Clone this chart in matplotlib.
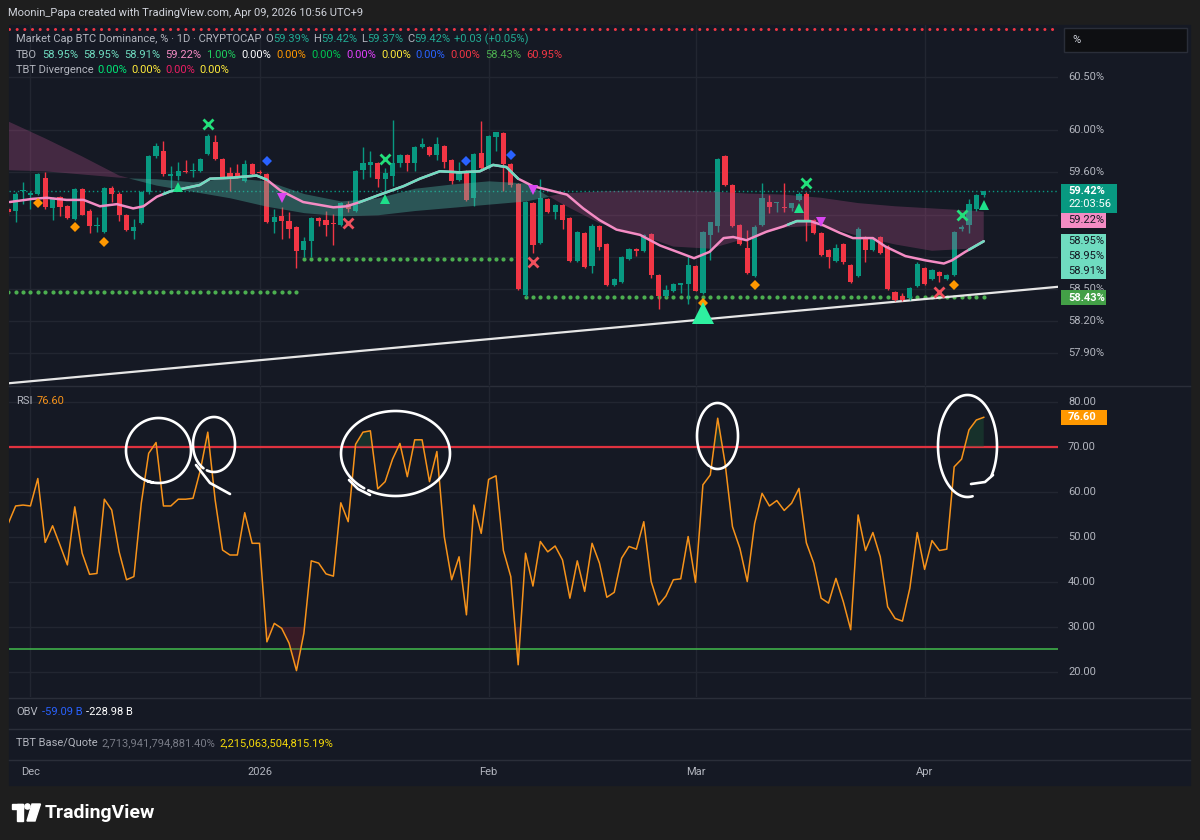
#Recreation of a TradingView chart: BTC dominance with TBO cloud and RSI

import matplotlib.pyplot as plt
from matplotlib.patches import Rectangle, Polygon, Circle
import numpy as np

plt.rcParams['font.family'] = ['Roboto', 'DejaVu Sans']

W, H = 1200, 840

# ---------------- data ----------------
opens = [
    59.25, 59.24, 59.42, 59.39, 59.40, 59.55, 59.26, 59.37, 59.28, 59.16,
    59.44, 59.24, 59.09, 59.04, 59.45, 59.40, 59.20, 59.05, 59.12, 59.41,
    59.75, 59.80, 59.57, 59.57, 59.61, 59.61, 59.61, 59.77, 59.89, 59.73,
    59.59, 59.59, 59.52, 59.68, 59.60, 59.58, 59.13, 59.19, 59.14, 59.08,
    58.87, 58.95, 59.17, 59.15, 59.12, 59.10, 59.30, 59.24, 59.62, 59.67,
    59.69, 59.54, 59.57, 59.69, 59.76, 59.69, 59.84, 59.84, 59.76, 59.85,
    59.72, 59.53, 59.61, 59.36, 59.78, 59.64, 59.93, 59.97, 59.68, 59.49,
    58.44, 59.31, 58.93, 59.35, 59.23, 59.29, 59.17, 58.76, 59.03, 58.72,
    59.09, 58.92, 58.54, 58.57, 58.78, 58.88, 58.86, 59.02, 58.63, 58.43,
    58.48, 58.54, 58.55, 58.72, 58.46, 59.01, 59.09, 59.75, 59.48, 59.10,
    58.89, 58.62, 59.10, 59.32, 59.31, 59.27, 59.26, 59.34, 59.40, 59.15,
    59.03, 58.87, 58.76, 58.92, 58.73, 58.62, 58.99, 58.87, 58.99, 58.90,
    58.47, 58.43, 58.41, 58.53, 58.70, 58.59, 58.66, 58.59, 58.63, 59.07,
    59.10, 59.25, 59.39]
highs = [
    59.27, 59.41, 59.51, 59.42, 59.59, 59.60, 59.37, 59.38, 59.29, 59.45,
    59.45, 59.25, 59.18, 59.46, 59.47, 59.41, 59.21, 59.16, 59.42, 59.76,
    59.88, 59.90, 59.66, 59.70, 59.72, 59.69, 59.74, 59.96, 59.95, 59.74,
    59.65, 59.68, 59.72, 59.69, 59.62, 59.59, 59.25, 59.27, 59.23, 59.09,
    58.99, 59.18, 59.18, 59.24, 59.21, 59.32, 59.33, 59.62, 59.84, 59.80,
    59.70, 59.64, 60.09, 59.77, 59.77, 59.85, 59.92, 59.85, 59.93, 59.86,
    59.73, 59.70, 59.62, 59.78, 60.08, 59.95, 59.98, 59.98, 59.69, 59.50,
    59.33, 59.32, 59.54, 59.36, 59.30, 59.30, 59.18, 59.05, 59.04, 59.11,
    59.10, 58.93, 58.60, 58.81, 58.89, 58.89, 59.02, 59.03, 58.64, 58.54,
    58.56, 58.56, 58.81, 58.73, 59.05, 59.13, 59.74, 59.76, 59.49, 59.11,
    59.06, 59.10, 59.50, 59.39, 59.32, 59.50, 59.31, 59.41, 59.41, 59.16,
    59.04, 58.88, 58.92, 58.93, 58.74, 59.08, 59.00, 58.98, 59.00, 58.91,
    58.48, 58.46, 58.52, 58.75, 58.71, 58.69, 58.67, 58.64, 59.05, 59.10,
    59.35, 59.40, 59.42]
lows = [
    59.21, 59.13, 59.30, 59.25, 59.39, 59.25, 59.15, 59.19, 59.16, 59.15,
    59.20, 59.03, 59.04, 59.03, 59.32, 59.14, 59.05, 58.97, 59.11, 59.40,
    59.74, 59.57, 59.43, 59.53, 59.59, 59.56, 59.60, 59.76, 59.72, 59.55,
    59.42, 59.55, 59.51, 59.57, 59.58, 59.12, 59.03, 58.97, 58.98, 58.70,
    58.80, 58.80, 59.09, 59.00, 58.91, 59.09, 59.23, 59.23, 59.54, 59.56,
    59.46, 59.42, 59.47, 59.65, 59.61, 59.61, 59.83, 59.75, 59.72, 59.64,
    59.49, 59.52, 59.33, 59.28, 59.63, 59.63, 59.80, 59.42, 59.46, 58.49,
    58.42, 58.84, 58.92, 59.22, 59.16, 59.07, 58.75, 58.75, 58.70, 58.65,
    58.87, 58.53, 58.53, 58.56, 58.77, 58.81, 58.85, 58.60, 58.31, 58.42,
    58.47, 58.46, 58.36, 58.48, 58.45, 58.77, 59.04, 59.47, 59.08, 58.91,
    58.64, 58.61, 59.09, 59.22, 59.23, 59.23, 59.24, 59.33, 58.95, 59.02,
    58.81, 58.70, 58.75, 58.74, 58.56, 58.61, 58.75, 58.86, 58.83, 58.49,
    58.39, 58.39, 58.40, 58.52, 58.54, 58.58, 58.57, 58.58, 58.62, 59.05,
    59.03, 59.24, 59.37]
closes = [
    59.23, 59.40, 59.43, 59.40, 59.58, 59.27, 59.36, 59.27, 59.17, 59.44,
    59.20, 59.09, 59.10, 59.45, 59.40, 59.20, 59.06, 59.08, 59.41, 59.75,
    59.85, 59.58, 59.58, 59.61, 59.60, 59.62, 59.73, 59.94, 59.73, 59.56,
    59.56, 59.57, 59.68, 59.58, 59.59, 59.13, 59.18, 59.14, 59.07, 58.86,
    58.95, 59.17, 59.14, 59.10, 59.11, 59.31, 59.25, 59.61, 59.69, 59.70,
    59.54, 59.59, 59.69, 59.76, 59.69, 59.84, 59.87, 59.76, 59.87, 59.70,
    59.52, 59.61, 59.34, 59.77, 59.64, 59.94, 59.98, 59.68, 59.48, 58.50,
    59.32, 58.91, 59.36, 59.23, 59.29, 59.15, 58.76, 59.04, 58.71, 59.09,
    58.90, 58.54, 58.59, 58.80, 58.88, 58.86, 59.01, 58.63, 58.43, 58.49,
    58.55, 58.55, 58.73, 58.48, 59.04, 59.13, 59.73, 59.48, 59.09, 58.92,
    58.65, 59.08, 59.36, 59.27, 59.32, 59.26, 59.31, 59.40, 59.15, 59.03,
    58.82, 58.80, 58.89, 58.75, 58.57, 59.07, 58.87, 58.97, 58.84, 58.50,
    58.40, 58.40, 58.51, 58.74, 58.55, 58.68, 58.62, 58.63, 59.04, 59.08,
    59.30, 59.39, 59.42]

rsi = [
    53.0, 56.9, 57.1, 56.9, 63.0, 48.8, 52.5, 48.2, 43.8, 56.7,
    46.4, 41.7, 41.9, 58.4, 56.0, 46.7, 40.5, 41.2, 57.5, 68.6,
    71.0, 56.9, 56.9, 58.4, 58.4, 58.6, 64.9, 73.3, 58.2, 47.1,
    46.0, 46.0, 55.4, 48.6, 48.6, 26.7, 30.8, 29.7, 26.4, 20.3,
    28.6, 44.7, 44.2, 41.8, 41.3, 57.6, 53.4, 70.6, 73.3, 73.6,
    60.7, 62.3, 67.3, 70.8, 63.4, 71.6, 71.6, 62.3, 69.0, 50.1,
    40.5, 45.6, 32.7, 57.1, 50.8, 62.8, 63.6, 47.0, 41.2, 21.6,
    46.4, 39.1, 49.0, 46.7, 48.0, 44.9, 36.4, 44.7, 37.9, 48.6,
    44.2, 36.6, 37.7, 45.3, 47.9, 47.3, 53.4, 40.1, 34.9, 36.9,
    40.5, 40.7, 50.1, 39.9, 61.6, 63.8, 76.4, 66.4, 52.3, 47.5,
    40.1, 53.0, 59.7, 56.9, 58.1, 55.9, 57.5, 60.8, 48.7, 44.2,
    36.4, 35.3, 40.8, 35.6, 29.4, 54.9, 47.0, 51.0, 45.6, 34.5,
    31.9, 31.3, 38.6, 51.0, 42.8, 49.2, 47.0, 47.3, 65.6, 67.3,
    73.8, 76.0, 76.6]

month_labels = ["Dec", "2026", "Feb", "Mar", "Apr"]
month_bars = [3, 34, 65, 93, 124]

# TBO fast line (bar position, value) and where it is teal
fast_x = [0.2, 3.3, 5.2, 7.9, 10.2, 12.4, 14.7, 16.9, 18.3, 20.1, 21.9, 23.2, 25.9,
          27.3, 30.4, 33.6, 35.0, 36.8, 39.9, 44.0, 45.8, 47.6, 50.3, 53.5, 55.7,
          58.4, 61.1, 63.8, 65.6, 67.4, 69.0, 71.0, 73.3, 75.6, 77.8, 80.0, 82.3,
          85.5, 88.2, 90.9, 92.8, 94.9, 96.8, 98.1, 99.9, 102.6, 104.9, 106.7,
          108.5, 110.3, 112.5, 114.3, 117.0, 118.7, 121.4, 124.1, 126.6, 127.7,
          129.5, 132.0]
fast_y = [59.32, 59.35, 59.36, 59.34, 59.34, 59.28, 59.30, 59.26, 59.28, 59.37, 59.42,
          59.44, 59.48, 59.54, 59.55, 59.57, 59.53, 59.43, 59.32, 59.27, 59.28, 59.32,
          59.39, 59.47, 59.54, 59.61, 59.60, 59.61, 59.67, 59.65, 59.54, 59.47, 59.43,
          59.39, 59.26, 59.15, 59.06, 59.01, 58.91, 58.84, 58.79, 58.85, 58.98, 58.99,
          58.96, 59.04, 59.09, 59.14, 59.14, 59.10, 59.03, 58.98, 58.98, 58.90, 58.81,
          58.77, 58.74, 58.77, 58.85, 58.95]
fast_teal = [(21, 35), (47.5, 69), (105.5, 108.5), (130, 132)]

# TBO cloud lines
cloud_x = [0, 5, 10, 15, 20, 25, 30, 35, 40, 45, 50, 55, 60, 65, 70, 75, 80, 85,
           90, 95, 100, 105, 110, 115, 120, 125, 130, 132]
cloud_a = [59.62, 59.61, 59.58, 59.55, 59.54, 59.51, 59.55, 59.52, 59.40, 59.33,
           59.36, 59.45, 59.49, 59.52, 59.50, 59.30, 59.12, 59.02, 58.90, 58.88,
           58.98, 59.08, 59.10, 59.00, 58.92, 58.86, 58.88, 58.95]
cloud_b = [60.08, 59.92, 59.75, 59.57, 59.48, 59.42, 59.36, 59.28, 59.22, 59.19,
           59.20, 59.24, 59.27, 59.30, 59.33, 59.40, 59.42, 59.43, 59.43, 59.42,
           59.40, 59.39, 59.36, 59.31, 59.28, 59.26, 59.24, 59.23]

support_levels = [(0, 39, 58.475), (40, 68, 58.78), (70, 132, 58.42)]
trend_bars = [0, 142]
trend_vals = [57.61, 58.52]
last_price = 59.42
tbo_top = 60.95

green_x = [(27, 60.06), (51, 59.73), (108, 59.50), (129, 59.20)]
red_x = [(46, 59.12), (71, 58.75), (126, 58.47)]
blue_dia = [(35, 59.71), (62, 59.71), (68, 59.76)]
orange_dia = [(4, 59.31), (9, 59.08), (13, 58.94), (94, 58.37), (101, 58.54), (128, 58.54)]
magenta_dn = [(37, 59.36), (71, 59.43), (110, 59.13)]
green_up = [(23, 59.46), (51, 59.35), (107, 59.26), (132, 59.29)]
big_up = [(94, 58.27)]

price_grid = [60.5, 60.0, 59.6, 59.2, 58.8, 58.5, 58.2, 57.9]
price_labels = [60.5, 60.0, 59.6, 58.5, 58.2, 57.9]   # the others sit under the value boxes
rsi_ticks = [80, 70, 60, 50, 40, 30, 20]
tbo_vals = [58.95, 58.95, 58.91]

PMIN, PMAX = 57.594, 60.99
RMIN, RMAX = 14.44, 83.56
XMIN, XMAX = 0.1, 142.05

GRID = '#222631'
GRAY = '#b2b5be'
UP = '#089981'
DOWN = '#f23645'
PINK = '#f48cc4'
MINT = '#6fdcc0'


def py(p):
    return 25 + (PMAX - p) / (PMAX - PMIN) * 360


def ry(v):
    return 386 + (RMAX - v) / (RMAX - RMIN) * 311


fig = plt.figure(figsize=(12, 8.4), dpi=100, facecolor='#1e1e1e')

# background panel
bg = fig.add_axes([0, 0, 1, 1])
bg.set_xlim(0, W)
bg.set_ylim(H, 0)
bg.axis('off')
bg.add_patch(Rectangle((9, 25), 1181, 760, color='#151924'))
for yy in [385.5, 697.5, 728.5, 759.5]:
    bg.plot([9, 1190], [yy, yy], color='#2a2e39', lw=1)


def pane(y0, y1):
    a = fig.add_axes([9 / W, 1 - y1 / H, 1049 / W, (y1 - y0) / H])
    a.set_facecolor('none')
    for s in a.spines.values():
        s.set_visible(False)
    a.set_xticks([])
    a.set_yticks([])
    a.set_xlim(XMIN, XMAX)
    return a


# ---------------- price pane ----------------
ax = pane(25, 385)
ax.set_ylim(PMIN, PMAX)
for p in price_grid:
    ax.axhline(p, color=GRID, lw=1, zorder=0)
for b in month_bars:
    ax.axvline(b, color=GRID, lw=1, zorder=0)

ax.axhline(tbo_top, color=DOWN, lw=2.2, ls=(0, (0.01, 2.5)), dash_capstyle='round', zorder=1)
ax.axhline(last_price, color=UP, lw=1, ls=(0, (1, 2)), zorder=1)

for a, b, lvl in support_levels:
    bars = np.arange(a, b + 1)
    ax.scatter(bars, [lvl] * len(bars), s=9, color='#4caf50', zorder=1, linewidths=0)

ax.plot(trend_bars, trend_vals, color='#e6e6e6', lw=1.6, zorder=2)

for i in range(len(opens)):
    o, h, l, c = opens[i], highs[i], lows[i], closes[i]
    col = UP if c >= o else DOWN
    ax.vlines(i, l, h, color=col, lw=1, zorder=2)
    body = max(abs(c - o), 0.012)
    ax.bar(i, body, bottom=min(o, c), width=0.7, color=col, zorder=2, linewidth=0)

ca = np.array(cloud_a)
cb = np.array(cloud_b)
ax.fill_between(cloud_x, ca, cb, where=ca >= cb, interpolate=True,
                color='#4fb8a8', alpha=0.38, lw=0, zorder=3)
ax.fill_between(cloud_x, ca, cb, where=ca < cb, interpolate=True,
                color='#b4508a', alpha=0.3, lw=0, zorder=3)

ax.plot(fast_x, fast_y, color=PINK, lw=1.8, zorder=4, solid_capstyle='round')
for a, b in fast_teal:
    xs = [a] + [x for x in fast_x if a < x < b] + [b]
    ax.plot(xs, np.interp(xs, fast_x, fast_y), color=MINT, lw=1.8, zorder=4,
            solid_capstyle='round')


def marks(pts, **kw):
    ax.plot([p[0] for p in pts], [p[1] for p in pts], ls='none', zorder=5, **kw)


marks(green_x, marker='x', color='#22e07a', ms=6.5, mew=2)
marks(red_x, marker='x', color='#f0505c', ms=6.5, mew=2)
marks(blue_dia, marker='D', color='#2962ff', ms=5.5, mew=0)
marks(orange_dia, marker='D', color='#ff9800', ms=5.5, mew=0)
marks(magenta_dn, marker='v', color='#d845f0', ms=7.5, mew=0)
marks(green_up, marker='^', color='#1ee08a', ms=7.5, mew=0)
marks(big_up, marker='^', color='#2ef0a0', ms=16, mew=0)

# ---------------- RSI pane ----------------
axr = pane(386, 697)
axr.set_ylim(RMIN, RMAX)
for v in rsi_ticks:
    axr.axhline(v, color=GRID, lw=1, zorder=0)
for b in month_bars:
    axr.axvline(b, color=GRID, lw=1, zorder=0)
axr.axhline(70, color='#e0323f', lw=1.6, zorder=1)
axr.axhline(25, color='#3fae49', lw=1.2, zorder=1)
bars = np.arange(len(rsi))
r = np.array(rsi)
axr.fill_between(bars, 70, r, where=r > 70, interpolate=True, color='#1b5e3a', alpha=0.35, lw=0)
axr.fill_between(bars, 30, r, where=r < 30, interpolate=True, color='#7a1f2a', alpha=0.35, lw=0)
axr.plot(bars, rsi, color='#f7931a', lw=1.1, zorder=3)

# ---------------- overlay: labels, texts, pen marks ----------------
ov = fig.add_axes([0, 0, 1, 1])
ov.set_xlim(0, W)
ov.set_ylim(H, 0)
ov.axis('off')
ov.set_facecolor('none')
rend = fig.canvas.get_renderer()

# hand-drawn circles round the RSI peaks (pixel coords: centre, radii, pen start/end angle)
pen_loops = [((158.5, 450.5), 32.5, 32.5, 100, 470),
             ((214, 444.5), 21, 27.5, 120, 470),
             ((395.5, 453.5), 54.5, 42.5, 125, 480),
             ((717.5, 436), 20.5, 33, 115, 470),
             ((967.5, 446), 29.5, 51, 80, 396)]
for (cx, cy), rx, ryy, t0, t1 in pen_loops:
    t = np.radians(np.linspace(t0, t1, 120))
    ov.plot(cx + rx * np.cos(t), cy + ryy * np.sin(t), color='white', lw=1.9,
            solid_capstyle='round', zorder=6)
pen_tails = [([196, 210, 230], [465, 483, 494]),
             ([349, 358, 370], [480, 489, 495]),
             ([993, 985, 971], [475, 482, 484])]
for xs, ys in pen_tails:
    ov.plot(xs, ys, color='white', lw=1.9, solid_capstyle='round', zorder=6)


def seq_text(x, y, parts, size=8.0, gap=4):
    for s, c, g in parts:
        t = ov.text(x, y, s, color=c, fontsize=size, va='center', ha='left')
        x += t.get_window_extent(renderer=rend).width + (gap if g else 0)


ov.text(8, 13, "Moonin_Papa created with TradingView.com, Apr 09, 2026 10:56 UTC+9",
        color='#d1d4dc', fontsize=8.0, va='center')

teal = '#22ab94'
seq_text(16, 39, [("Market Cap BTC Dominance, % · 1D · CRYPTOCAP", GRAY, 1),
                  ("O", GRAY, 0), ("59.39%", teal, 1), ("H", GRAY, 0), ("59.42%", teal, 1),
                  ("L", GRAY, 0), ("59.37%", teal, 1), ("C", GRAY, 0), ("59.42%", teal, 1),
                  ("+0.03 (+0.05%)", teal, 0)])
seq_text(16, 55, [("TBO", GRAY, 1), ("58.95%", MINT, 1), ("58.95%", MINT, 1),
                  ("58.91%", MINT, 1), ("59.22%", PINK, 1), ("1.00%", '#1fcf5f', 1),
                  ("0.00%", '#ffffff', 1), ("0.00%", '#ff9800', 1), ("0.00%", '#00c853', 1),
                  ("0.00%", '#e040fb', 1), ("0.00%", '#ffeb3b', 1), ("0.00%", '#2962ff', 1),
                  ("0.00%", '#f23645', 1), ("58.43%", '#4caf50', 1), ("60.95%", '#f23645', 0)],
         gap=5)
seq_text(16, 70, [("TBT Divergence", GRAY, 1), ("0.00%", '#00e676', 1),
                  ("0.00%", '#ffeb3b', 1), ("0.00%", '#e91e63', 1), ("0.00%", '#ffeb3b', 0)])

seq_text(16, 401, [("RSI", GRAY, 1), ("76.60", '#f7931a', 0)])
seq_text(16, 712, [("OBV", GRAY, 1), ("-59.09 B", '#2962ff', 1), ("-228.98 B", '#ffffff', 0)])
seq_text(16, 743, [("TBT Base/Quote", GRAY, 1), ("2,713,941,794,881.40%", '#787b86', 1),
                   ("2,215,063,504,815.19%", '#f5d90a', 0)])

# price scale
for p in price_labels:
    ov.text(1068, py(p), f"{p:.2f}%", color=GRAY, fontsize=8, va='center', zorder=2)
for v in rsi_ticks:
    ov.text(1068, ry(v), f"{v:.2f}", color=GRAY, fontsize=8, va='center', zorder=2)

ov.add_patch(Rectangle((1064, 28), 123, 24, facecolor='#0e0f12', edgecolor='#2a2e39', lw=1))
ov.text(1072, 40, "%", color='#d1d4dc', fontsize=8, va='center')


def label(y, w, h, fc, lines, tc):
    ov.add_patch(Rectangle((1061, y - 7.5), w, h, facecolor=fc, lw=0, zorder=4))
    for k, s in enumerate(lines):
        ov.text(1068, y + 13 * k, s, color=tc, fontsize=8, va='center', zorder=5,
                fontweight='bold' if tc == 'white' and k == 0 else 'normal')


y = py(last_price)
label(y, 56, 29, '#089981', [f"{last_price:.2f}%", "22:03:56"], 'white')
bottom = y + 21.5
y = max(py(59.22), bottom + 7.5)
label(y, 45, 15, PINK, ["59.22%"], '#131722')
bottom = y + 7.5
for v in tbo_vals:
    y = max(py(v), bottom + 7.5)
    label(y, 45, 15, MINT, [f"{v:.2f}%"], '#131722')
    bottom = y + 7.5
label(max(py(58.43), bottom + 7.5) + 1.5, 45, 15, '#43a047', ["58.43%"], 'white')

label(ry(rsi[-1]), 46, 15, '#ff9800', [f"{rsi[-1]:.2f}"], 'white')

# time axis
for lab, b in zip(month_labels, month_bars):
    xpx = 9 + (b - XMIN) / (XMAX - XMIN) * 1049
    ov.text(xpx, 772, lab, color=GRAY, fontsize=8, va='center', ha='center')

# TradingView logo
ov.add_patch(Rectangle((12, 804), 11, 5, color='white'))
ov.add_patch(Rectangle((17, 804), 6, 17, color='white'))
ov.add_patch(Circle((27.5, 806.5), 2.6, color='white'))
ov.add_patch(Polygon([(32, 804), (40.5, 804), (35, 821), (27, 821)], closed=True, color='white'))
ov.text(45, 812.5, "TradingView", color='white', fontsize=14, fontweight='bold', va='center')

fig.savefig('out.png', dpi=100, facecolor=fig.get_facecolor())
